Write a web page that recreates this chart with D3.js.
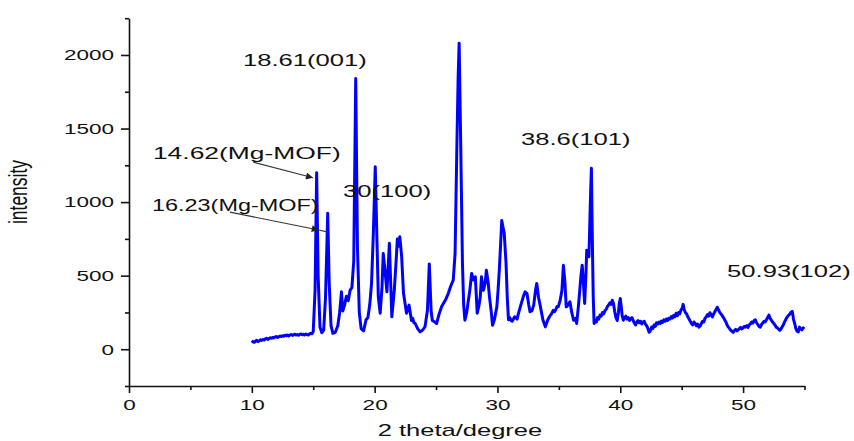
<!DOCTYPE html>
<html>
<head>
<meta charset="utf-8">
<script src="https://cdn.jsdelivr.net/npm/d3@7"></script>
<style>
  body { margin: 0; background: #fff; }
  text { font-family: "Liberation Sans", Arial, sans-serif; fill: #111; }
</style>
</head>
<body>
<svg id="chart" width="854" height="441"></svg>
<script>
// XRD pattern, [2theta, intensity]
const baseline = [
  [10.0, 58], [10.1, 50], [10.2, 47], [10.3, 55], [10.4, 60], [10.5, 52], [10.6, 56], [10.7, 64], [10.8, 60], [10.9, 66],
  [11.0, 62], [11.1, 70], [11.2, 74], [11.3, 67], [11.4, 72], [11.5, 78], [11.6, 74], [11.7, 80], [11.8, 76], [11.9, 84],
  [12.0, 86], [12.1, 80], [12.2, 84], [12.3, 90], [12.4, 86], [12.5, 92], [12.6, 88], [12.7, 95], [12.8, 92], [12.9, 97],
  [13.0, 90], [13.1, 96], [13.2, 100], [13.3, 94], [13.4, 98], [13.5, 102], [13.6, 96], [13.7, 100], [13.8, 95], [13.9, 101],
  [14.0, 104], [14.1, 98], [14.2, 102], [14.3, 97], [14.4, 103], [14.5, 100], [14.6, 96], [14.7, 104], [14.8, 108], [14.9, 105],
  [15.0, 120]
];
const peaks = [
  [15.15, 400], [15.28, 1200], [15.4, 500], [15.55, 150], [15.7, 112], [15.85, 130], [16.0, 350], [16.18, 925], [16.3, 450], [16.45, 160],
  [16.6, 108], [16.8, 115], [17.0, 160], [17.15, 250], [17.3, 390], [17.4, 260], [17.55, 300], [17.7, 360], [17.85, 330], [18.0, 400],
  [18.15, 420], [18.3, 600], [18.46, 1840], [18.6, 700], [18.75, 250], [18.9, 140], [19.1, 125], [19.3, 200], [19.45, 215], [19.6, 300],
  [19.75, 450], [19.9, 800], [20.05, 1240], [20.2, 700], [20.3, 356], [20.45, 245], [20.6, 420], [20.7, 650], [20.85, 530], [21.0, 390],
  [21.2, 720], [21.4, 220], [21.6, 400], [21.75, 600], [21.85, 750], [21.95, 700], [22.05, 765], [22.2, 630], [22.35, 380], [22.6, 245],
  [22.8, 300], [23.0, 195], [23.1, 210], [23.2, 180], [23.3, 175], [23.5, 140], [23.7, 118], [23.9, 130], [24.1, 152], [24.3, 265],
  [24.45, 580], [24.6, 260], [24.7, 195], [24.9, 185], [25.05, 175], [25.25, 240], [25.45, 288], [25.6, 310], [25.8, 340], [26.0, 380],
  [26.2, 430], [26.4, 470], [26.55, 650], [26.7, 1400], [26.8, 1850], [26.88, 2080], [26.95, 1700], [27.0, 1440], [27.08, 990], [27.15, 585],
  [27.25, 300], [27.35, 197], [27.5, 250], [27.6, 313], [27.75, 400], [27.9, 515], [28.05, 470], [28.2, 492], [28.35, 245], [28.5, 300],
  [28.6, 356], [28.7, 492], [28.85, 400], [29.0, 450], [29.1, 537], [29.25, 450], [29.35, 356], [29.5, 250], [29.6, 163], [29.75, 200],
  [29.95, 288], [30.05, 400], [30.15, 537], [30.25, 700], [30.35, 875], [30.45, 830], [30.55, 790], [30.7, 583], [30.8, 350], [30.9, 200],
  [31.0, 215], [31.1, 195], [31.2, 190], [31.3, 205], [31.4, 220], [31.5, 215], [31.6, 205], [31.7, 240], [31.9, 300], [32.1, 356],
  [32.25, 390], [32.4, 380], [32.55, 300], [32.65, 255], [32.8, 260], [32.95, 300], [33.1, 400], [33.2, 447], [33.35, 350], [33.5, 288],
  [33.7, 200], [33.9, 152], [34.1, 200], [34.2, 215], [34.3, 230], [34.4, 240], [34.55, 265], [34.65, 255], [34.75, 270], [34.85, 290],
  [34.95, 288], [35.1, 330], [35.25, 400], [35.37, 570], [35.5, 447], [35.6, 288], [35.75, 300], [35.9, 322], [36.05, 250], [36.2, 197],
  [36.35, 210], [36.45, 175], [36.6, 300], [36.7, 400], [36.8, 500], [36.9, 571], [37.0, 450], [37.1, 311], [37.2, 500], [37.27, 673],
  [37.4, 640], [37.45, 628], [37.54, 923], [37.6, 1100], [37.65, 1230], [37.7, 900], [37.75, 605], [37.8, 350]
];
const tail = [
  [37.87, 175], [37.95, 195], [38.05, 185], [38.15, 215], [38.25, 205], [38.35, 232], [38.45, 225], [38.55, 250], [38.65, 240], [38.75, 262],
  [38.85, 270], [38.95, 290], [39.05, 300], [39.15, 315], [39.25, 305], [39.35, 333], [39.45, 310], [39.55, 255], [39.65, 215], [39.75, 195],
  [39.85, 250], [39.92, 310], [40.0, 345], [40.08, 290], [40.15, 230], [40.25, 197], [40.35, 215], [40.45, 225], [40.55, 205], [40.65, 215],
  [40.75, 195], [40.85, 208], [40.95, 215], [41.05, 195], [41.15, 178], [41.25, 165], [41.35, 185], [41.45, 195], [41.55, 180], [41.65, 190],
  [41.75, 172], [41.85, 185], [41.95, 190], [42.05, 170], [42.15, 160], [42.25, 140], [42.35, 115], [42.45, 125], [42.55, 150], [42.65, 140],
  [42.75, 165], [42.85, 155], [42.95, 180], [43.05, 172], [43.15, 185], [43.25, 175], [43.35, 192], [43.45, 182], [43.55, 200], [43.65, 190],
  [43.75, 205], [43.85, 195], [43.95, 210], [44.05, 205], [44.15, 222], [44.25, 212], [44.35, 230], [44.45, 220], [44.55, 245], [44.65, 228],
  [44.75, 250], [44.85, 242], [44.95, 268], [45.05, 280], [45.12, 305], [45.2, 270], [45.3, 250], [45.4, 240], [45.5, 220], [45.6, 205],
  [45.7, 190], [45.8, 175], [45.9, 165], [46.0, 185], [46.1, 175], [46.2, 160], [46.3, 170], [46.4, 150], [46.5, 158], [46.6, 175],
  [46.7, 190], [46.8, 185], [46.9, 210], [47.0, 220], [47.1, 235], [47.2, 225], [47.3, 248], [47.4, 235], [47.5, 220], [47.6, 240],
  [47.7, 255], [47.8, 270], [47.9, 285], [48.0, 268], [48.1, 250], [48.2, 240], [48.3, 228], [48.4, 215], [48.5, 200], [48.6, 185],
  [48.7, 165], [48.8, 150], [48.9, 140], [49.0, 128], [49.1, 122], [49.2, 115], [49.3, 128], [49.4, 135], [49.5, 125], [49.6, 132],
  [49.7, 140], [49.8, 148], [49.9, 138], [50.0, 145], [50.1, 155], [50.2, 150], [50.3, 160], [50.4, 148], [50.5, 165], [50.6, 172],
  [50.7, 185], [50.8, 178], [50.9, 195], [51.0, 200], [51.1, 180], [51.2, 168], [51.3, 155], [51.4, 150], [51.5, 168], [51.6, 178],
  [51.7, 190], [51.8, 185], [51.9, 200], [52.0, 215], [52.1, 232], [52.2, 210], [52.3, 198], [52.4, 185], [52.5, 175], [52.6, 165],
  [52.7, 150], [52.8, 145], [52.9, 135], [53.0, 128], [53.1, 140], [53.2, 155], [53.3, 170], [53.4, 190], [53.5, 205], [53.6, 220],
  [53.7, 230], [53.8, 238], [53.9, 250], [54.0, 258], [54.05, 235], [54.1, 205], [54.2, 175], [54.3, 140], [54.4, 122], [54.5, 118],
  [54.6, 150], [54.7, 140], [54.8, 132], [54.9, 145], [54.95, 138]
];
const xMajor = [0, 10, 20, 30, 40, 50];
const xMinor = [5, 15, 25, 35, 45, 55];
const yMajor = [0, 500, 1000, 1500, 2000];
const yMinor = [-250, 250, 750, 1250, 1750, 2250];
const labelTexts = ["18.61(001)", "14.62(Mg-MOF)", "16.23(Mg-MOF)", "30(100)", "38.6(101)", "50.93(102)"];
// where each label starts, in data units (2theta, intensity)
const labelAt = [[9.28, 1925], [1.95, 1293], [1.87, 939], [17.43, 1034], [31.92, 1388], [48.7, 490]];
// arrows: tail, head, and an optional bit of line past the head
const arrows = [
  {from: [10.1, 1272], to: [14.98, 1165]},
  {from: [8.22, 932], to: [15.45, 810], past: [16.2, 796]}
];

const stretch = 1.5; // the picture is wider than tall, text is widened to match
const labelStretch = [1.55, 1.6, 1.42, 1.55, 1.55, 1.55];

const x = d3.scaleLinear([0, 55], [129, 804.5]);
const y = d3.scaleLinear([-250, 2250], [386, 18.2]);

const svg = d3.select("#chart");

svg.append("defs").append("marker")
  .attr("id", "head")
  .attr("viewBox", "0 0 10 10")
  .attr("refX", 10).attr("refY", 5)
  .attr("markerWidth", 9).attr("markerHeight", 7)
  .attr("markerUnits", "userSpaceOnUse")
  .attr("orient", "auto")
  .append("path")
  .attr("d", "M0,0L10,5L0,10z")
  .attr("fill", "#222");

function widen(sel, f){
  sel.each(function(d, i){
    const w = this.getComputedTextLength();
    const k = typeof f === "function" ? f(d, i) : f;
    d3.select(this).attr("textLength", w * k).attr("lengthAdjust", "spacingAndGlyphs");
  });
}

// axes
const gx = svg.append("g")
  .attr("transform", "translate(0," + y(-250) + ")")
  .call(d3.axisBottom(x).tickValues(xMajor).tickSize(7).tickSizeOuter(0).tickPadding(6).tickFormat(d3.format("d")));
svg.append("g")
  .attr("transform", "translate(0," + y(-250) + ")")
  .call(d3.axisBottom(x).tickValues(xMinor).tickSize(4).tickSizeOuter(0).tickFormat(""))
  .select(".domain").remove();
const gy = svg.append("g")
  .attr("transform", "translate(" + x(0) + ",0)")
  .call(d3.axisLeft(y).tickValues(yMajor).tickSize(8).tickSizeOuter(0).tickPadding(7).tickFormat(d3.format("d")));
svg.append("g")
  .attr("transform", "translate(" + x(0) + ",0)")
  .call(d3.axisLeft(y).tickValues(yMinor).tickSize(4).tickSizeOuter(0).tickFormat(""))
  .select(".domain").remove();

svg.selectAll(".domain, .tick line").attr("stroke", "#111").attr("stroke-width", 1.6);
svg.selectAll(".tick text").attr("font-size", 15).attr("fill", "#111")
  .style("font-family", "'Liberation Sans', Arial, sans-serif");
gx.selectAll(".tick text").attr("dy", "0.71em");
widen(gx.selectAll(".tick text"), stretch);
widen(gy.selectAll(".tick text"), stretch);

// axis titles
widen(svg.append("text")
  .attr("x", 460).attr("y", 436)
  .attr("text-anchor", "middle")
  .attr("font-size", 17)
  .text("2 theta/degree"), stretch);

svg.append("text")
  .attr("transform", "translate(27,192) scale(" + stretch + ",1) rotate(-90)")
  .attr("text-anchor", "middle")
  .attr("font-size", 17.5)
  .text("intensity");

// pattern
const pts = baseline.concat(peaks, tail);
svg.append("path")
  .datum(pts)
  .attr("fill", "none")
  .attr("stroke", "#0000ff")
  .attr("stroke-width", 3)
  .attr("stroke-linejoin", "round")
  .attr("d", d3.line().x(d => x(d[0])).y(d => y(d[1])));

// arrows
arrows.forEach(a => {
  if (a.past) {
    svg.append("line")
      .attr("x1", x(a.to[0])).attr("y1", y(a.to[1]))
      .attr("x2", x(a.past[0])).attr("y2", y(a.past[1]))
      .attr("stroke", "#333").attr("stroke-width", 1.1);
  }
  svg.append("line")
    .attr("x1", x(a.from[0])).attr("y1", y(a.from[1]))
    .attr("x2", x(a.to[0])).attr("y2", y(a.to[1]))
    .attr("stroke", "#333").attr("stroke-width", 1.1)
    .attr("marker-end", "url(#head)");
});

// peak labels
const labels = svg.selectAll(".peak")
  .data(labelTexts)
  .enter()
  .append("text")
  .attr("class", "peak")
  .attr("x", (d, i) => x(labelAt[i][0]))
  .attr("y", (d, i) => y(labelAt[i][1]))
  .attr("font-size", 16.5)
  .text(d => d);
widen(labels, (d, i) => labelStretch[i]);
</script>
</body>
</html>
